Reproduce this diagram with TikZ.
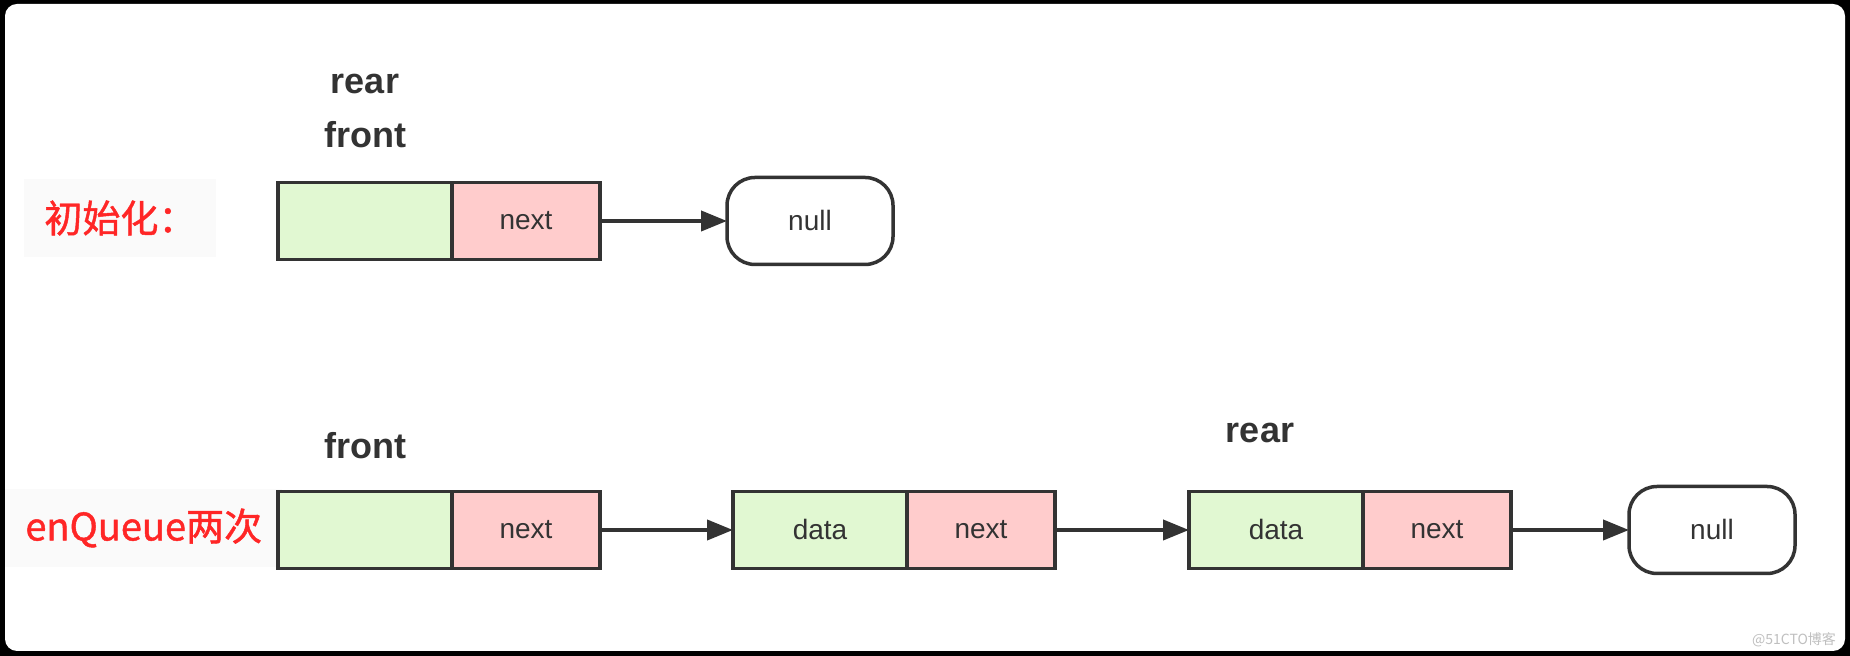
\documentclass[tikz,border=0pt]{standalone}
\usepackage{fontspec}
\setmainfont{Liberation Sans}
\newfontfamily\cjk{Noto Sans CJK SC}
\newfontfamily\cjkmed[FakeBold=1.2]{Noto Sans CJK SC}
\usetikzlibrary{positioning,arrows.meta}
\definecolor{cellgreen}{HTML}{E1F8D2}
\definecolor{cellpink}{HTML}{FFCCCC}
\definecolor{linegray}{HTML}{333333}
\definecolor{labelred}{HTML}{FF2626}

\tikzset{
   cell/.style={draw=linegray, line width=1.75pt, outer sep=0pt, minimum height=38.5pt,
      font=\fontsize{14}{16}\selectfont, text=linegray},
   datacell/.style={cell, fill=cellgreen, minimum width=87pt},
   nextcell/.style={cell, fill=cellpink, minimum width=74pt},
   nullcell/.style={cell, fill=white, rounded corners=14pt, minimum width=83pt, minimum height=43.5pt},
   ptr/.style={font=\fontsize{18}{20}\selectfont\bfseries, text=linegray},
   stage/.style={font=\cjkmed\fontsize{19}{22}\selectfont, text=labelred, fill=black!2,
      inner xsep=10pt, minimum height=39pt, anchor=west},
   link/.style={draw=linegray, line width=2pt, -{Triangle[length=13pt,width=10pt]}},
}

\begin{document}
\begin{tikzpicture}
      \fill[black] (0,0) rectangle (925pt,328pt);
      \fill[white, rounded corners=6pt] (2.5pt,2.5pt) rectangle (922.5pt,326pt);
      \useasboundingbox (0,0) rectangle (925pt,328pt);
      % initial state
      \node[stage] (init) at (12pt,219pt) {初始化：};
      \node[datacell] (h0) at (182.5pt,217.5pt) {};
      \node[nextcell, right=0pt of h0] (h0n) {next};
      \node[nullcell, right=63.5pt of h0n] (n0) {null};
      \node[ptr, above=14pt of h0] (f0) {front};
      \node[ptr, above=6.5pt of f0] (r0) {rear};
      \draw[link] (h0n) -- (n0);
      % after two enQueue
      \node[stage] (enq) at (2.5pt,64pt) {enQueue两次};
      \node[datacell] (h1) at (182.5pt,63pt) {};
      \node[nextcell, right=0pt of h1] (h1n) {next};
      \node[datacell, right=66.5pt of h1n] (d1) {data};
      \node[nextcell, right=0pt of d1] (d1n) {next};
      \node[datacell, right=67pt of d1n] (d2) {data};
      \node[nextcell, right=0pt of d2] (d2n) {next};
      \node[nullcell, right=59pt of d2n] (n1) {null};
      \node[ptr, above=13pt of h1] (f1) {front};
      \node[ptr, above=21pt of d2, xshift=-8pt] (r1) {rear};
      \draw[link] (h1n) -- (d1);
      \draw[link] (d1n) -- (d2);
      \draw[link] (d2n) -- (n1);
      \node[font=\cjk\fontsize{7}{8}\selectfont, text=gray!50] (wm) at (897pt,8pt) {@51CTO博客};
\end{tikzpicture}
\end{document}
